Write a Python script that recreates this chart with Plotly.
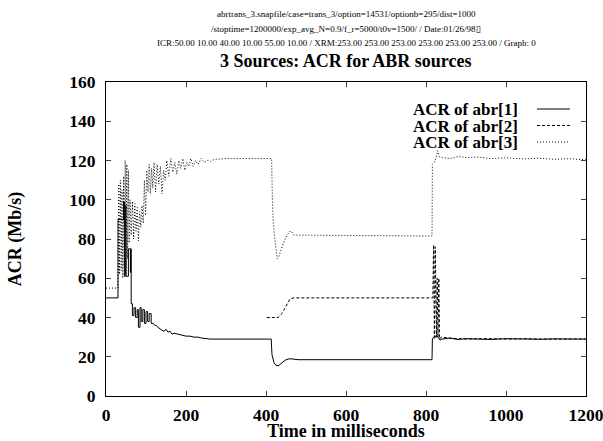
import plotly.graph_objects as go

# ACR of abr[1] (solid)
t1 = [0, 30, 30, 44, 44, 46, 46, 48, 48, 50, 50, 56, 56, 61, 61, 62, 62, 63, 63,
      66, 66, 70, 70, 74, 74, 78, 78, 81, 81, 85, 85, 88, 88, 92, 92, 96, 96,
      100, 100, 104, 104, 108, 108, 113, 113, 118, 122, 125, 130, 135, 140, 145,
      150, 155, 160, 165, 170, 180, 190, 200, 210, 220, 230, 240, 260, 300, 413,
      415, 420, 425, 432, 440, 450, 460, 480, 815, 816, 819, 822, 826, 830, 835,
      840, 860, 880, 900, 930, 960, 1000, 1040, 1080, 1120, 1160, 1200]
v1 = [50, 50, 90, 90, 99, 99, 61, 61, 97, 97, 61, 61, 75, 75, 63, 63, 75, 75, 47,
      47, 41, 41, 45, 45, 40, 40, 44, 44, 35, 35, 45, 45, 38, 38, 44, 44, 37,
      37, 43, 43, 38, 38, 42, 42, 37, 37, 36, 36, 35, 34, 33.5, 33,
      34, 32.5, 33, 31.5, 32, 31.5, 31, 30.5, 30.5, 30, 30, 29.5, 29, 29, 29,
      21, 17, 15.5, 15.5, 17, 18.5, 19, 18.5, 18.5, 29, 30, 29.5, 31, 30, 28.5,
      29, 29.5, 28.8, 29.2, 29, 28.8, 29.2, 29, 28.9, 29.1, 29, 29]

# ACR of abr[2] (dashed), source starts around 400 ms
t2 = [402, 430, 440, 448, 455, 460, 470, 815, 817, 819, 821, 823, 826, 828, 830,
      832, 834, 838, 860, 900, 950, 1000, 1050, 1100, 1150, 1200]
v2 = [40, 40, 42, 45, 48, 49.5, 50, 50, 50, 77, 30, 76, 30, 60, 30, 60, 29, 30,
      29.5, 29, 29.3, 29, 29.2, 29, 29.1, 29]

# ACR of abr[3] (dotted)
t3 = [0, 30, 30, 32, 34, 36, 38, 40, 42, 44, 46, 48, 50, 52, 54, 56, 58,
      60, 63, 66, 69, 72, 75, 78, 81, 84, 87, 90, 93,
      96, 99, 102, 105, 108, 111, 114, 117, 120, 124, 128, 132, 136, 140, 144, 148,
      152, 157, 162, 167, 172, 177, 182, 187, 192, 197, 202, 207,
      212, 218, 224, 230, 238, 246, 254, 262, 270, 300, 414,
      416, 418, 422, 428, 432, 440, 450, 460, 465, 470, 480, 815,
      816, 820, 825, 829, 833, 840, 860, 880, 900, 930, 960, 1000, 1040, 1080,
      1120, 1160, 1200]
v3 = [55, 55, 60, 108, 62, 110, 64, 105, 60, 112, 66, 120, 62, 118, 70, 115, 78,
      100, 82, 99, 80, 98, 84, 96, 79, 94, 86, 97, 88,
      110, 92, 115, 104, 118, 103, 116, 106, 119, 104, 118, 108, 117, 103, 115, 110,
      120, 112, 121, 114, 119, 113, 120, 116, 121, 115, 119, 117,
      121, 117, 120, 118, 121, 119, 120, 119.5, 120.5, 121, 121,
      100, 89, 80, 70, 71, 76, 81, 84, 83.5, 82, 82, 81.5,
      118, 119, 121, 125, 122, 121.5, 121, 122, 121.5, 121.8, 121, 121.4, 120.8, 121.2,
      120.6, 120.9, 120.3]

names = ["ACR of abr[1]", "ACR of abr[2]", "ACR of abr[3]"]
dashes = ["solid", "3px,2px", "1px,2px"]

fig = go.Figure()
for t, v, nm, d in zip([t1, t2, t3], [v1, v2, v3], names, dashes):
    fig.add_trace(go.Scatter(x=t, y=v, mode="lines", name=nm,
                             line=dict(color="black", width=1, dash=d)))

serif = "Liberation Serif"
H = 314  # plot height in px
W = 480  # plot width in px
header = [
    "abrtrans_3.snapfile/case=trans_3/option=14531/optionb=295/dist=1000",
    "/stoptime=1200000/exp_avg_N=0.9/f_r=5000/t0v=1500/ / Date:01/26/98\u25af",
    "ICR:50.00 10.00 40.00 10.00 55.00 10.00 / XRM:253.00 253.00 253.00 253.00 253.00 253.00 / Graph: 0",
]
ann = []
for i, h in enumerate(header):
    ann.append(dict(text=h, xref="paper", yref="paper", x=0.5, y=1 + (68 - 14.5 * i) / H,
                    yanchor="middle", showarrow=False,
                    font=dict(family=serif, size=9, color="black")))
ann.append(dict(text="<b>3 Sources: ACR for ABR sources</b>", xref="paper", yref="paper",
                x=0.5, y=1 + 21 / H, yanchor="middle", showarrow=False,
                font=dict(family=serif, size=18, color="black")))

# gnuplot-style key: text right-aligned, sample line to its right
shapes = []
for i, (nm, d) in enumerate(zip(names, dashes)):
    yk = 1 - (27 + 16.5 * i) / H
    ann.append(dict(text="<b>%s</b>" % nm, xref="paper", yref="paper", x=414 / W, y=yk,
                    xanchor="right", yanchor="middle", height=16, showarrow=False,
                    font=dict(family=serif, size=17, color="black")))
    shapes.append(dict(type="line", xref="paper", yref="paper", x0=431 / W, x1=464 / W,
                       y0=yk, y1=yk, line=dict(color="black", width=1, dash=d)))

fig.update_layout(
    width=603, height=441,
    margin=dict(l=106, r=17, t=82, b=45),
    paper_bgcolor="white", plot_bgcolor="white",
    showlegend=False,
    annotations=ann, shapes=shapes,
    font=dict(family=serif, color="black"),
    xaxis=dict(range=[0, 1200], dtick=200, ticks="inside", ticklen=5, mirror="ticks",
               showline=True, linecolor="black", linewidth=1, showgrid=False, zeroline=False,
               automargin=False, ticklabeloverflow="allow", ticklabelstandoff=3,
               tickfont=dict(family=serif, size=17.5, color="black"),
               title=dict(text="<b>Time in milliseconds</b>", standoff=0,
                          font=dict(family=serif, size=18, color="black"))),
    yaxis=dict(range=[0, 160], dtick=20, ticks="inside", ticklen=5, mirror="ticks",
               showline=True, linecolor="black", linewidth=1, showgrid=False, zeroline=False,
               automargin=False, ticklabeloverflow="allow", ticklabelstandoff=6,
               tickfont=dict(family=serif, size=17.5, color="black"),
               title=dict(text="<b>ACR (Mb/s)</b>", standoff=42,
                          font=dict(family=serif, size=18, color="black"))),
)
fig.update_xaxes(tickprefix="<b>", ticksuffix="</b>")
fig.update_yaxes(tickprefix="<b>", ticksuffix="</b>")

# drop the page's default body margin so the figure fills the window exactly
fig.write_html("out.html", config={"displayModeBar": False},
               post_script="document.body.style.margin='0';document.body.style.overflow='hidden';")
